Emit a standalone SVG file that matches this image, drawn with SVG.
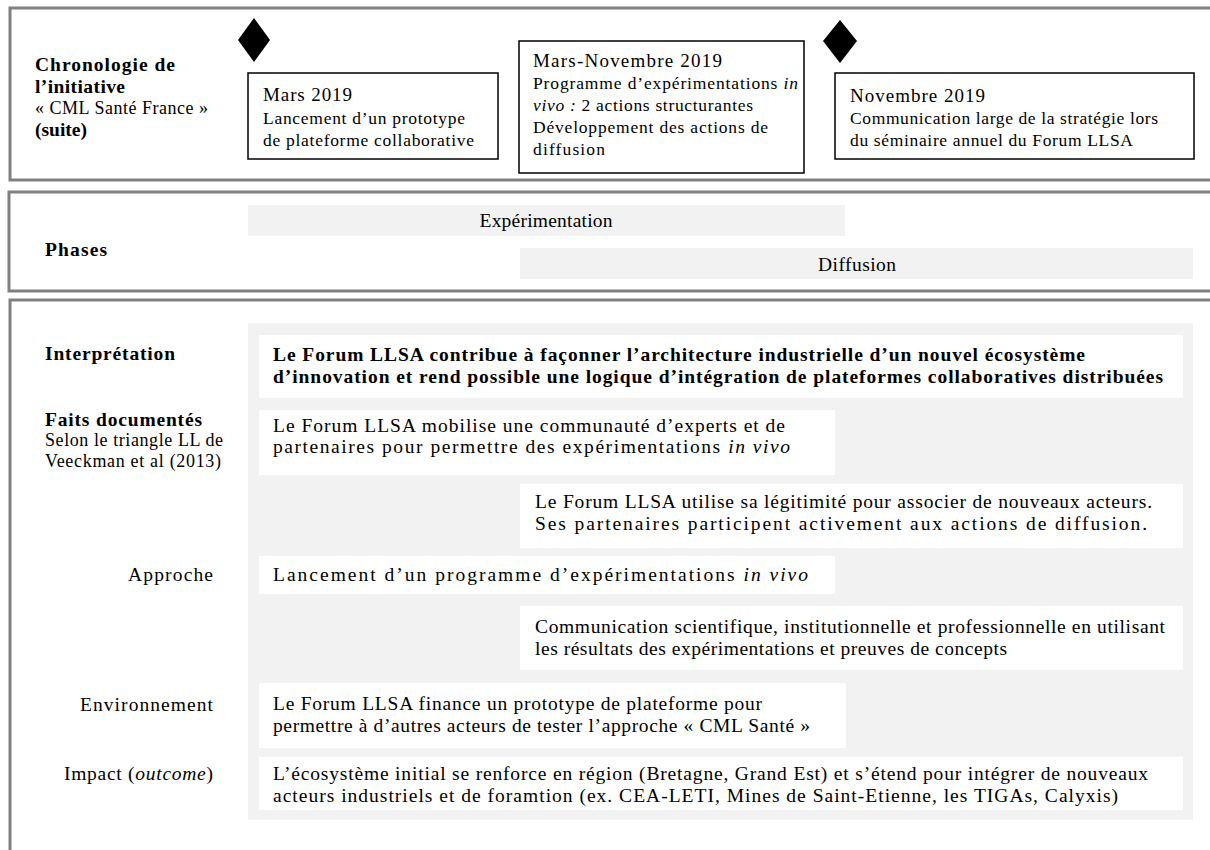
<svg xmlns="http://www.w3.org/2000/svg" width="1210" height="850" viewBox="0 0 1210 850">
<style>
text{font-family:"Liberation Serif","Times New Roman",serif;fill:#000}
.panel{fill:none;stroke:#808080;stroke-width:3}
.tbox{fill:#fff;stroke:#000;stroke-width:1.5}
.wbox{fill:#fff}
.gray{fill:#f2f2f2}
.b{font-weight:bold}
.h{font-size:19.5px}
.s{font-size:18px}
.t19{font-size:17.5px}
.t20{font-size:19px}
.p{font-size:19.5px}
.i{font-style:italic}
.dia{fill:#000}
</style>
<rect width="1210" height="850" fill="#fff"/>
<g id="panel-chronologie">
<rect class="panel" x="10" y="8" width="1220" height="172"/>
<text class="h b" x="35" y="71" textLength="140" lengthAdjust="spacing">Chronologie de</text>
<text class="h b" x="35" y="93" textLength="90" lengthAdjust="spacing">l’initiative</text>
<text class="s" x="35" y="114" textLength="173" lengthAdjust="spacing">« CML Santé France »</text>
<text class="h b" x="35" y="136" textLength="52" lengthAdjust="spacing">(suite)</text>
</g>
<g id="milestone-1">
<polygon class="dia" points="254,18 270,40 254,62 238,40"/>
</g>
<g id="milestone-2">
<polygon class="dia" points="840,20 857,41 840,63 823,41"/>
</g>
<g id="event-mars-2019">
<rect class="tbox" x="248" y="73" width="250" height="86"/>
<text class="t20" x="263" y="101" textLength="89" lengthAdjust="spacing">Mars 2019</text>
<text class="t19" x="263" y="124" textLength="202" lengthAdjust="spacing">Lancement d’un prototype</text>
<text class="t19" x="263" y="146" textLength="211" lengthAdjust="spacing">de plateforme collaborative</text>
</g>
<g id="event-mars-novembre-2019">
<rect class="tbox" x="519" y="41" width="285" height="132"/>
<text class="t20" x="533" y="67" textLength="189" lengthAdjust="spacing">Mars-Novembre 2019</text>
<text class="t19" x="533" y="89" textLength="265" lengthAdjust="spacing">Programme d’expérimentations <tspan class="i">in</tspan></text>
<text class="t19" x="533" y="111" textLength="220" lengthAdjust="spacing"><tspan class="i">vivo :</tspan> 2 actions structurantes</text>
<text class="t19" x="533" y="133" textLength="235" lengthAdjust="spacing">Développement des actions de</text>
<text class="t19" x="533" y="155" textLength="72" lengthAdjust="spacing">diffusion</text>
</g>
<g id="event-novembre-2019">
<rect class="tbox" x="835" y="73" width="359" height="86"/>
<text class="t20" x="850" y="102" textLength="135" lengthAdjust="spacing">Novembre 2019</text>
<text class="t19" x="850" y="124" textLength="308" lengthAdjust="spacing">Communication large de la stratégie lors</text>
<text class="t19" x="850" y="146" textLength="283" lengthAdjust="spacing">du séminaire annuel du Forum LLSA</text>
</g>
<g id="panel-phases">
<rect class="panel" x="9" y="192" width="1220" height="99"/>
<text class="h b" x="45" y="256" textLength="62" lengthAdjust="spacing">Phases</text>
</g>
<g id="phase-experimentation">
<rect class="gray" x="248" y="205" width="597" height="31"/>
<text class="p" x="546" y="227" text-anchor="middle" textLength="133" lengthAdjust="spacing">Expérimentation</text>
</g>
<g id="phase-diffusion">
<rect class="gray" x="520" y="248" width="673" height="31"/>
<text class="p" x="857" y="271" text-anchor="middle" textLength="78" lengthAdjust="spacing">Diffusion</text>
</g>
<g id="panel-analyse">
<rect class="panel" x="10" y="300" width="1220" height="600"/>
<rect class="gray" x="248" y="323" width="945" height="497"/>
<text class="h b" x="45" y="360" textLength="130" lengthAdjust="spacing">Interprétation</text>
<text class="h b" x="45" y="426" textLength="157" lengthAdjust="spacing">Faits documentés</text>
<text class="s" x="45" y="446" textLength="178" lengthAdjust="spacing">Selon le triangle LL de</text>
<text class="s" x="45" y="467" textLength="176" lengthAdjust="spacing">Veeckman et al (2013)</text>
<text class="p" x="213" y="581" text-anchor="end" textLength="85" lengthAdjust="spacing">Approche</text>
<text class="p" x="213" y="711" text-anchor="end" textLength="133" lengthAdjust="spacing">Environnement</text>
<text class="p" x="213" y="780" text-anchor="end" textLength="149" lengthAdjust="spacing">Impact (<tspan class="i">outcome</tspan>)</text>
</g>
<g id="interpretation">
<rect class="wbox" x="259" y="335" width="924" height="63"/>
<text class="p b" x="273" y="361" textLength="812" lengthAdjust="spacing">Le Forum LLSA contribue à façonner l’architecture industrielle d’un nouvel écosystème</text>
<text class="p b" x="273" y="383" textLength="890" lengthAdjust="spacing">d’innovation et rend possible une logique d’intégration de plateformes collaboratives distribuées</text>
</g>
<g id="fait-communaute">
<rect class="wbox" x="259" y="410" width="576" height="65"/>
<text class="p" x="273" y="432" textLength="512" lengthAdjust="spacing">Le Forum LLSA mobilise une communauté d’experts et de</text>
<text class="p" x="273" y="453" textLength="517" lengthAdjust="spacing">partenaires  pour permettre des expérimentations <tspan class="i">in vivo</tspan></text>
</g>
<g id="fait-legitimite">
<rect class="wbox" x="520" y="484" width="663" height="64"/>
<text class="p" x="535" y="508" textLength="617" lengthAdjust="spacing">Le Forum LLSA utilise sa légitimité pour associer de nouveaux acteurs.</text>
<text class="p" x="535" y="530" textLength="612" lengthAdjust="spacing">Ses partenaires participent activement aux actions de diffusion.</text>
</g>
<g id="approche-programme">
<rect class="wbox" x="259" y="556" width="576" height="38"/>
<text class="p" x="273" y="581" textLength="535" lengthAdjust="spacing">Lancement d’un programme d’expérimentations <tspan class="i">in vivo</tspan></text>
</g>
<g id="approche-communication">
<rect class="wbox" x="520" y="606" width="663" height="64"/>
<text class="p" x="535" y="633" textLength="630" lengthAdjust="spacing">Communication scientifique, institutionnelle et professionnelle en utilisant</text>
<text class="p" x="535" y="655" textLength="472" lengthAdjust="spacing">les résultats des expérimentations et preuves de concepts</text>
</g>
<g id="environnement-prototype">
<rect class="wbox" x="259" y="683" width="587" height="65"/>
<text class="p" x="273" y="710" textLength="489" lengthAdjust="spacing">Le Forum LLSA finance un prototype de plateforme pour</text>
<text class="p" x="273" y="732" textLength="537" lengthAdjust="spacing">permettre à d’autres acteurs de tester l’approche « CML  Santé »</text>
</g>
<g id="impact-ecosysteme">
<rect class="wbox" x="259" y="757" width="924" height="53"/>
<text class="p" x="273" y="780" textLength="875" lengthAdjust="spacing">L’écosystème initial se renforce en région (Bretagne, Grand Est) et s’étend pour intégrer de nouveaux</text>
<text class="p" x="273" y="802" textLength="845" lengthAdjust="spacing">acteurs industriels et de foramtion (ex. CEA-LETI, Mines de Saint-Etienne, les TIGAs, Calyxis)</text>
</g>
<g id="connectors"/>
</svg>
